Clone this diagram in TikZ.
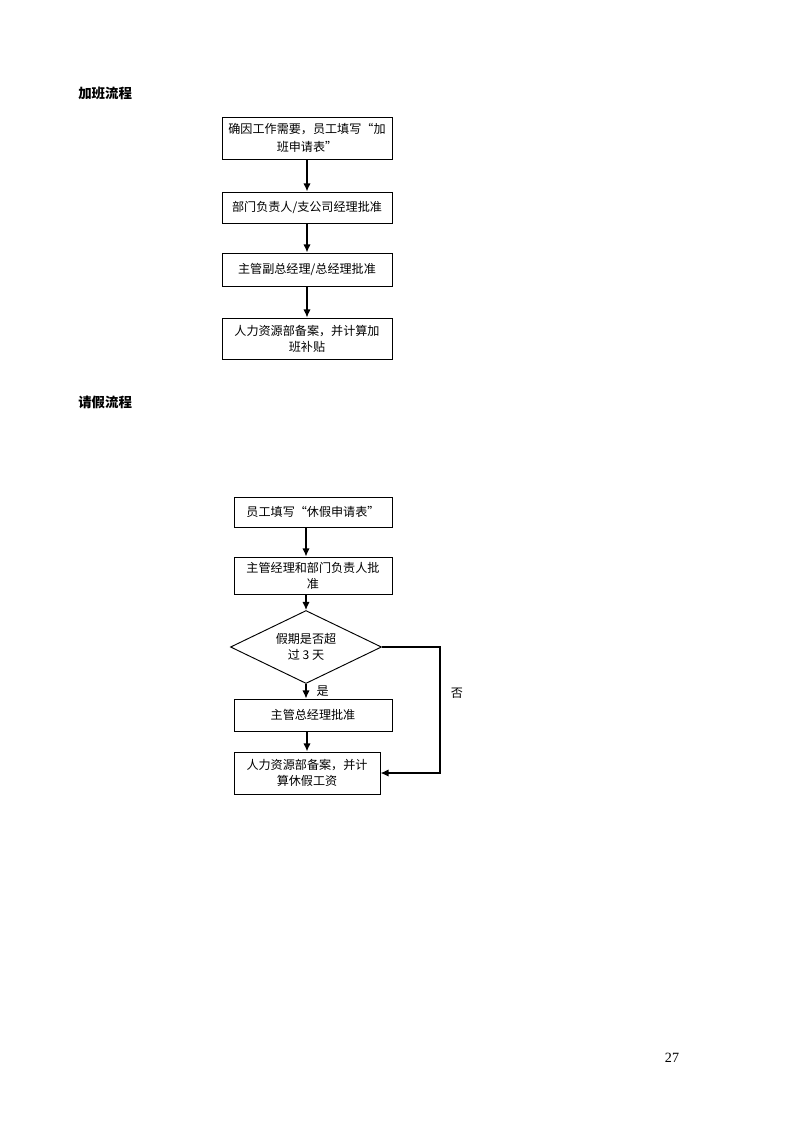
\documentclass[tikz,border=0pt]{standalone}
\usepackage{fontspec}
\setmainfont{Liberation Serif}
\newfontfamily\cjk{Noto Sans CJK SC}
\usetikzlibrary{shapes.geometric,arrows.meta}

\tikzset{
	box/.style={draw, line width=0.7pt, align=center, inner sep=2pt, font=\cjk\fontsize{9pt}{12pt}\selectfont},
	arr/.style={-{Latex[length=6pt,width=5.5pt]}, line width=1.1pt},
	title/.style={anchor=west, inner sep=0pt, font=\cjk\bfseries\fontsize{10pt}{12pt}\selectfont},
	lbl/.style={font=\cjk\fontsize{9pt}{11pt}\selectfont}
}

\begin{document}
\begin{tikzpicture}[x=0.7441pt, y=-0.7441pt]
	\useasboundingbox (0,0) rectangle (800,1132);

	% 加班流程
	\node[title] (title1) at (78,93) {加班流程};
	\node[box, minimum width=126.5pt, minimum height=31.3pt, font=\cjk\fontsize{9pt}{13.5pt}\selectfont] (t1) at (307,138) {确因工作需要，员工填写“加\\班申请表”};
	\node[box, minimum width=126.5pt, minimum height=23.1pt] (t2) at (307,207.5) {部门负责人/支公司经理批准};
	\node[box, minimum width=126.5pt, minimum height=24.6pt] (t3) at (307,269.5) {主管副总经理/总经理批准};
	\node[box, minimum width=126.5pt, minimum height=30.5pt] (t4) at (307,338.5) {人力资源部备案，并计算加\\班补贴};
	\draw[arr] (t1) -- (t2);
	\draw[arr] (t2) -- (t3);
	\draw[arr] (t3) -- (t4);

	% 请假流程
	\node[title] (title2) at (78,402) {请假流程};
	\node[box, minimum width=117.6pt, minimum height=22.3pt] (q1) at (313,512) {员工填写“休假申请表”};
	\node[box, minimum width=117.6pt, minimum height=27.5pt] (q2) at (313,575.5) {主管经理和部门负责人批\\准};
	\node[box, diamond, aspect=2, inner sep=0pt, minimum width=112.4pt, minimum height=54.3pt] (d) at (306,647) {假期是否超\\过 3 天};
	\node[box, minimum width=117.6pt, minimum height=23.8pt] (q3) at (313,715) {主管总经理批准};
	\node[box, minimum width=108.6pt, minimum height=31.3pt] (q4) at (307,773) {人力资源部备案，并计\\算休假工资};
	\coordinate (turn) at (440,647);
	\draw[arr] (q1.south -| d.north) -- (q2.north -| d.north);
	\draw[arr] (q2.south -| d.north) -- (d.north);
	\draw[arr] (d.south) -- (q3.north -| d.south) node[lbl, pos=.5, right=4pt] (yes) {是};
	\draw[arr] (q3.south -| q4.north) -- (q4.north);
	\draw[arr] (d.east) -- (turn) |- (q4.east);
	\node[lbl] (no) at (457,693) {否};

	\node[font=\fontsize{10.5pt}{12pt}\selectfont] (page) at (672,1058) {27};
\end{tikzpicture}
\end{document}
